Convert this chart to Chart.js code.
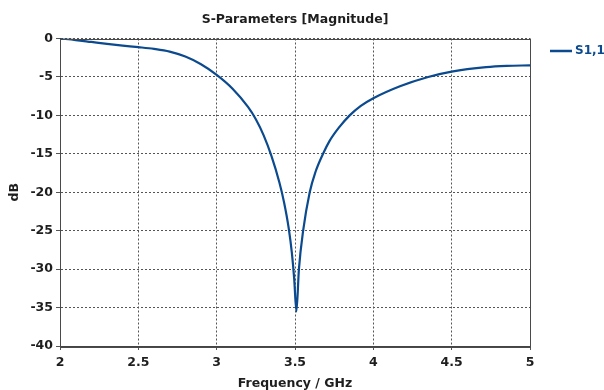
<!DOCTYPE html>
<html>
<head>
<meta charset="utf-8">
<script src="https://cdn.jsdelivr.net/npm/chart.js@4/dist/chart.umd.min.js"></script>
<style>
  html, body { margin: 0; padding: 0; background: #fff; }
  #wrap { width: 604px; height: 390px; overflow: hidden; }
</style>
</head>
<body>
<div id="wrap"><canvas id="sparChart"></canvas></div>
<script>
// frequency points (GHz) and S1,1 magnitude (dB)
const freqGHz = [2.0, 2.1, 2.2, 2.3, 2.4, 2.5, 2.6, 2.7, 2.8, 2.9, 3.0, 3.1, 3.2, 3.25, 3.3, 3.35, 3.4, 3.43, 3.46, 3.48, 3.495, 3.509, 3.525, 3.552, 3.594, 3.63, 3.679, 3.72, 3.78, 3.849, 3.92, 4.0, 4.17, 4.35, 4.5, 4.72, 4.85, 5.0];
const s11dB = [0, -0.2, -0.45, -0.7, -0.92, -1.12, -1.35, -1.7, -2.35, -3.35, -4.73, -6.5, -8.9, -10.5, -12.6, -15.3, -18.7, -21.3, -24.7, -27.9, -31.3, -35.5, -30, -25, -20, -17.4, -15, -13.35, -11.6, -10, -8.76, -7.76, -6.2, -5.0, -4.3, -3.72, -3.56, -3.5];
const xTicks = [2, 2.5, 3, 3.5, 4, 4.5, 5];
const yTicks = [0, -5, -10, -15, -20, -25, -30, -35, -40];
const seriesName = 'S1,1';
const chartTitle = 'S-Parameters [Magnitude]';

const lineColor = '#0b4a8e';
const textColor = '#1e1e1e';
const fontFamily = '"DejaVu Sans", Verdana, sans-serif';

const points = freqGHz.map((f, i) => ({ x: f, y: s11dB[i] }));

// frame round the plot, title over the plot and legend on the right
const framePlugin = {
    id: 'frame',
    afterDraw(chart) {
        const { ctx, chartArea } = chart;
        ctx.save();
        ctx.strokeStyle = '#4a4a4a';
        ctx.lineWidth = 1;
        ctx.strokeRect(Math.round(chartArea.left) + 0.5, Math.round(chartArea.top) + 0.5,
            Math.round(chartArea.right - chartArea.left), Math.round(chartArea.bottom - chartArea.top));

        // title centred on the plot area
        ctx.fillStyle = textColor;
        ctx.font = 'bold 12.5px ' + fontFamily;
        ctx.textAlign = 'center';
        ctx.textBaseline = 'middle';
        ctx.fillText(chartTitle, (chartArea.left + chartArea.right) / 2, 20);

        // legend
        const ds = chart.data.datasets[0];
        ctx.strokeStyle = ds.borderColor;
        ctx.lineWidth = 2.5;
        ctx.beginPath();
        ctx.moveTo(550, 51);
        ctx.lineTo(572, 51);
        ctx.stroke();
        ctx.fillStyle = ds.borderColor;
        ctx.font = 'bold 12px ' + fontFamily;
        ctx.textAlign = 'left';
        ctx.fillText(ds.label, 575, 51);
        ctx.restore();
    }
};

const ctx = document.getElementById('sparChart').getContext('2d');
new Chart(ctx, {
    type: 'scatter',
    data: {
        datasets: [{
            label: seriesName,
            data: points,
            showLine: true,
            borderColor: lineColor,
            borderWidth: 2.2,
            pointRadius: 0,
            cubicInterpolationMode: 'monotone'
        }]
    },
    options: {
        responsive: true,
        maintainAspectRatio: false,
        animation: false,
        layout: { padding: { left: 0, right: 74, top: 38.5, bottom: 0 } },
        plugins: {
            legend: { display: false },
            tooltip: { enabled: false },
            title: { display: false }
        },
        scales: {
            x: {
                type: 'linear',
                min: 2,
                max: 5,
                afterBuildTicks: (scale) => { scale.ticks = xTicks.map(v => ({ value: v })); },
                afterFit: (scale) => { scale.height = 44; },
                grid: { color: '#555', tickLength: 4 },
                border: { display: true, color: '#444', dash: [2, 2] },
                ticks: {
                    color: textColor,
                    padding: 5,
                    font: { family: fontFamily, size: 12.5, weight: 'bold' },
                    callback: (v) => String(v)
                },
                title: {
                    display: true,
                    text: 'Frequency / GHz',
                    color: textColor,
                    font: { family: fontFamily, size: 12.5, weight: 'bold', lineHeight: 1 },
                    padding: { top: 0, bottom: 0 }
                }
            },
            y: {
                min: -40,
                max: 0,
                afterBuildTicks: (scale) => { scale.ticks = yTicks.map(v => ({ value: v })); },
                afterFit: (scale) => { scale.width = 60; },
                grid: { color: '#555', tickLength: 4 },
                border: { display: true, color: '#444', dash: [2, 2] },
                ticks: {
                    color: textColor,
                    padding: 3,
                    font: { family: fontFamily, size: 12.5, weight: 'bold' }
                },
                title: {
                    display: true,
                    text: 'dB',
                    color: textColor,
                    font: { family: fontFamily, size: 12.5, weight: 'bold' },
                    padding: { top: 7, bottom: 0 }
                }
            }
        }
    },
    plugins: [framePlugin]
});
</script>
</body>
</html>
